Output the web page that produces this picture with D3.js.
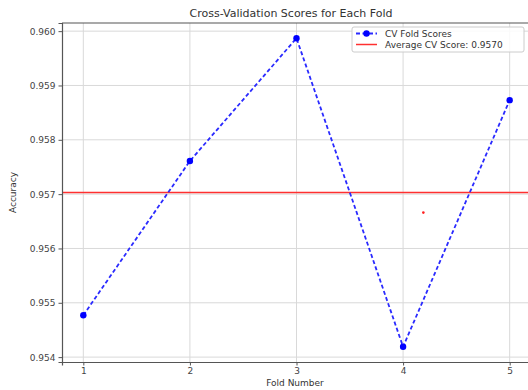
<!DOCTYPE html>
<html>
<head>
<meta charset="utf-8">
<script src="https://cdn.jsdelivr.net/npm/d3@7"></script>
<style>
  body { margin: 0; background: #fff; }
  svg { display: block; font-family: "DejaVu Sans", sans-serif; }
</style>
</head>
<body>
<svg id="chart"></svg>
<script>
const folds = [1, 2, 3, 4, 5];
const scores = [0.95477, 0.95761, 0.95987, 0.95419, 0.95873];
const avgScore = 0.95703;
const strayPoint = [4.19, 0.95666];
const yTicks = [0.954, 0.955, 0.956, 0.957, 0.958, 0.959, 0.96];

const w = 528;
const h = 390;
const plotLeft = 62;
const plotTop = 23;
const plotRight = 531;
const plotBottom = 362;

const svg = d3.select("#chart").attr("width", w).attr("height", h);

const xScale = d3.scaleLinear().domain([0.8, 5.2]).range([plotLeft, plotRight]);
const yScale = d3.scaleLinear().domain([0.95391, 0.96015]).range([plotBottom, plotTop]);

// grid
svg.append("g")
  .selectAll("line")
  .data(folds)
  .enter()
  .append("line")
  .attr("x1", (d) => xScale(d))
  .attr("x2", (d) => xScale(d))
  .attr("y1", plotTop)
  .attr("y2", plotBottom)
  .attr("stroke", "#d9d9d9")
  .attr("stroke-width", 1);

svg.append("g")
  .selectAll("line")
  .data(yTicks)
  .enter()
  .append("line")
  .attr("x1", plotLeft)
  .attr("x2", plotRight)
  .attr("y1", (d) => yScale(d))
  .attr("y2", (d) => yScale(d))
  .attr("stroke", "#d9d9d9")
  .attr("stroke-width", 1);

// average line
svg.append("line")
  .attr("x1", plotLeft)
  .attr("x2", plotRight)
  .attr("y1", yScale(avgScore))
  .attr("y2", yScale(avgScore))
  .attr("stroke", "#ff3030")
  .attr("stroke-width", 1.5);

// stray red dot
svg.append("circle")
  .attr("cx", xScale(strayPoint[0]))
  .attr("cy", yScale(strayPoint[1]))
  .attr("r", 1.3)
  .attr("fill", "#ff2020");

// fold scores
const line = d3.line()
  .x((d, i) => xScale(folds[i]))
  .y((d) => yScale(d));

svg.append("path")
  .datum(scores)
  .attr("d", line)
  .attr("fill", "none")
  .attr("stroke", "#2a2aff")
  .attr("stroke-width", 1.8)
  .attr("stroke-dasharray", "4,2.5");

svg.append("g")
  .selectAll("circle")
  .data(scores)
  .enter()
  .append("circle")
  .attr("cx", (d, i) => xScale(folds[i]))
  .attr("cy", (d) => yScale(d))
  .attr("r", 3.2)
  .attr("fill", "#0000ff");

// axes
const xAxis = d3.axisBottom(xScale).tickValues(folds).tickFormat(d3.format("d")).tickSize(3.5).tickPadding(2);
const yAxis = d3.axisLeft(yScale).tickValues(yTicks).tickFormat(d3.format(".3f")).tickSize(3.5).tickPadding(3);

const gx = svg.append("g").attr("transform", "translate(0," + plotBottom + ")").call(xAxis);
const gy = svg.append("g").attr("transform", "translate(" + plotLeft + ",0)").call(yAxis);

[gx, gy].forEach((g) => {
  g.select(".domain").attr("stroke", "#555").attr("stroke-width", 1.2);
  g.selectAll(".tick line").attr("stroke", "#555");
  g.selectAll("text").attr("fill", "#444").style("font-size", "9px").style("font-family", "DejaVu Sans");
});

// top spine
svg.append("line")
  .attr("x1", plotLeft)
  .attr("x2", plotRight)
  .attr("y1", plotTop)
  .attr("y2", plotTop)
  .attr("stroke", "#555")
  .attr("stroke-width", 1.2);

// labels
svg.append("text")
  .attr("x", 291)
  .attr("y", 17)
  .attr("text-anchor", "middle")
  .style("font-size", "11px")
  .attr("fill", "#333")
  .text("Cross-Validation Scores for Each Fold");

svg.append("text")
  .attr("x", 295)
  .attr("y", 386)
  .attr("text-anchor", "middle")
  .style("font-size", "9px")
  .attr("fill", "#333")
  .text("Fold Number");

svg.append("text")
  .attr("transform", "translate(16," + (plotTop + plotBottom) / 2 + ") rotate(-90)")
  .attr("text-anchor", "middle")
  .style("font-size", "9px")
  .attr("fill", "#333")
  .text("Accuracy");

// legend
const legend = svg.append("g").attr("transform", "translate(352,27)");
legend.append("rect")
  .attr("width", 172)
  .attr("height", 25)
  .attr("rx", 2)
  .attr("fill", "rgba(255,255,255,0.85)")
  .attr("stroke", "#ccc");

legend.append("line")
  .attr("x1", 4).attr("x2", 25).attr("y1", 6.5).attr("y2", 6.5)
  .attr("stroke", "#2a2aff").attr("stroke-width", 1.8).attr("stroke-dasharray", "4,2.5");
legend.append("circle").attr("cx", 14.5).attr("cy", 6.5).attr("r", 3.2).attr("fill", "#0000ff");
legend.append("text").attr("x", 33).attr("y", 10).style("font-size", "9px").attr("fill", "#333").text("CV Fold Scores");

legend.append("line")
  .attr("x1", 4).attr("x2", 25).attr("y1", 17.5).attr("y2", 17.5)
  .attr("stroke", "#ff3030").attr("stroke-width", 1.5);
legend.append("text").attr("x", 33).attr("y", 21).style("font-size", "9px").attr("fill", "#333").text("Average CV Score: " + d3.format(".4f")(avgScore));
</script>
</body>
</html>
